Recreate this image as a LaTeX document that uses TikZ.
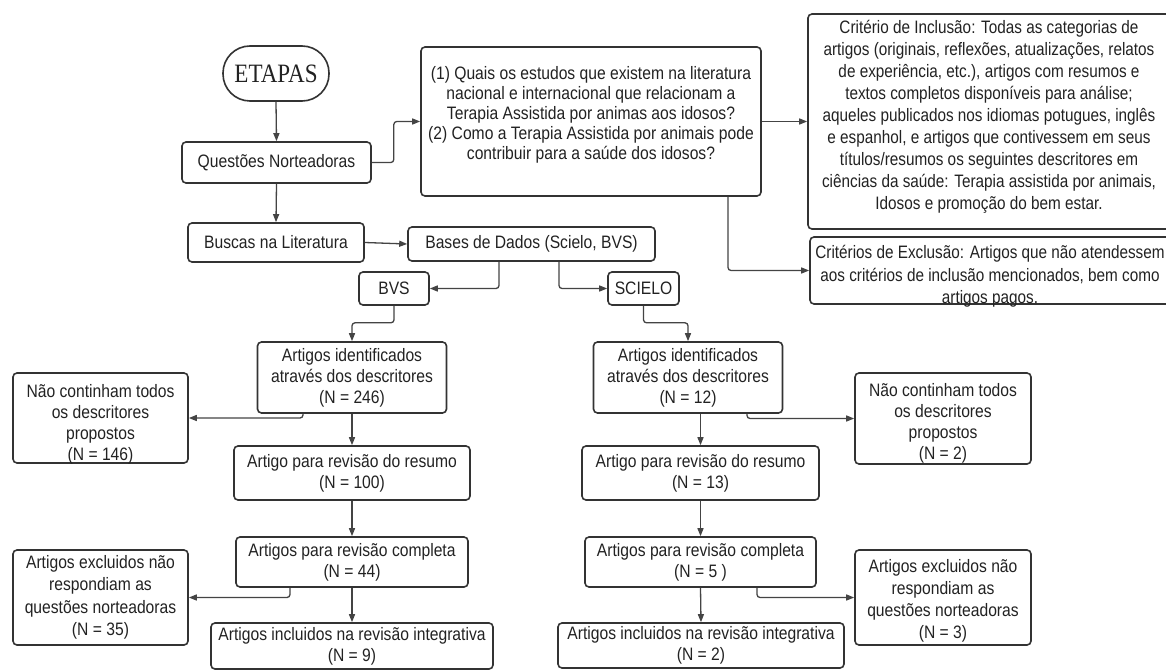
\documentclass[tikz,border=0pt]{standalone}
\usepackage{fontspec}
\usetikzlibrary{arrows.meta}
\newfontfamily\sfx{Liberation Sans}[FakeStretch=0.87]
\newfontfamily\sfn{Liberation Sans}[FakeStretch=0.85]
\newfontfamily\serx{Liberation Serif}[FakeStretch=0.87]
\definecolor{txtc}{HTML}{222222}
\definecolor{bordc}{HTML}{333333}
\definecolor{linec}{HTML}{444444}
\newcommand\txt{\sfx\fontsize{18}{21}\selectfont}
\begin{document}
\begin{tikzpicture}[x=1pt,y=-1pt,
 box/.style={draw=bordc, line width=1.6pt, rounded corners=4pt, inner sep=0pt, align=center, font=\txt, text=txtc},
 con/.style={draw=linec, line width=1.3pt, rounded corners=3pt, -{Triangle[length=8pt,width=6pt]}},
 lab/.style={font=\txt, align=center, text=txtc, inner sep=0pt}]
\useasboundingbox (0,0) rectangle (1166,671);
\fill[white] (0,0) rectangle (1166,671);
\clip (0,0) rectangle (1166,671);

\node[box, rounded corners=27pt, minimum width=106, minimum height=55, font=\serx\fontsize{26.5}{30}\selectfont] (etapas) at (276,73.5) {ETAPAS};
\node[box, minimum width=189, minimum height=41] (qn) at (276.5,162.5) {Questões Norteadoras};
\node[box, minimum width=176, minimum height=39] (bl) at (276,242.5) {Buscas na Literatura};
\node[box, minimum width=340, minimum height=149,
  label={[lab, font=\sfx\fontsize{18}{20}\selectfont, yshift=6.5pt]center:{(1) Quais os estudos que existem na literatura\\nacional e internacional que relacionam a\\Terapia Assistida por animas aos idosos?\\(2) Como a Terapia Assistida por animais pode\\contribuir para a saúde dos idosos?}}] (q) at (591,121.5) {};
\node[box, minimum width=362, minimum height=215,
  label={[lab, font=\sfn\fontsize{18}{22}\selectfont, yshift=5pt]center:{Critério de Inclusão: Todas as categorias de\\artigos (originais, reflexões, atualizações, relatos\\de experiência, etc.), artigos com resumos e\\textos completos disponíveis para análise;\\aqueles publicados nos idiomas potugues, inglês\\e espanhol, e artigos que contivessem em seus\\títulos/resumos os seguintes descritores em\\ciências da saúde: Terapia assistida por animais,\\Idosos e promoção do bem estar.}}] (crit) at (989,121.5) {};
\node[box, minimum width=360, minimum height=67,
  label={[lab, font=\sfn\fontsize{18}{22.5}\selectfont, yshift=-6pt]center:{Critérios de Exclusão: Artigos que não atendessem\\aos critérios de inclusão mencionados, bem como\\artigos pagos.}}] (excl) at (990,270.5) {};
\node[box, minimum width=247, minimum height=34] (bases) at (531.5,244) {Bases de Dados (Scielo, BVS)};
\node[box, minimum width=70, minimum height=33] (bvs) at (394,288.5) {BVS};
\node[box, minimum width=71, minimum height=33] (scielo) at (643.5,288.5) {SCIELO};

% left column
\node[box, minimum width=189, minimum height=71] (idl) at (352,377.5) {Artigos identificados\\através dos descritores\\(N = 246)};
\node[box, minimum width=175, minimum height=90,
  label={[lab, yshift=-6pt]center:{Não continham todos\\os descritores\\propostos\\(N = 146)}}] (nl) at (100.5,418) {};
\node[box, minimum width=236, minimum height=54] (rl) at (352,473) {Artigo para revisão do resumo\\(N = 100)};
\node[box, minimum width=232, minimum height=50] (cl) at (352,562) {Artigos para revisão completa\\(N = 44)};
\node[box, minimum width=175, minimum height=95, font=\sfx\fontsize{18}{22.5}\selectfont] (el) at (100.5,597.5) {Artigos excluidos não\\respondiam as\\questões norteadoras\\(N = 35)};
\node[box, minimum width=282, minimum height=46] (il) at (352,646) {Artigos incluidos na revisão integrativa\\(N = 9)};

% right column
\node[box, minimum width=189, minimum height=71] (idr) at (688,377.5) {Artigos identificados\\através dos descritores\\(N = 12)};
\node[box, minimum width=176, minimum height=91,
  label={[lab, yshift=-5pt]center:{Não continham todos\\os descritores\\propostos\\(N = 2)}}] (nr) at (943,418.5) {};
\node[box, minimum width=237, minimum height=54] (rr) at (700.5,473) {Artigo para revisão do resumo\\(N = 13)};
\node[box, minimum width=231, minimum height=50] (cr) at (700.5,562) {Artigos para revisão completa\\(N = 5 )};
\node[box, minimum width=176, minimum height=95,
  label={[lab, font=\sfx\fontsize{18}{22}\selectfont, yshift=-3pt]center:{Artigos excluidos não\\respondiam as\\questões norteadoras\\(N = 3)}}] (er) at (943,597.5) {};
\node[box, minimum width=286, minimum height=45] (ir) at (701,645.5) {Artigos incluidos na revisão integrativa\\(N = 2)};

% connectors
\draw[con] (etapas.south) -- (qn.north);
\draw[con] (qn.east) -- ++(22,0) |- (q.west);
\draw[con] (qn.south) -- (bl.north);
\draw[con] (q.east) -- (crit.west);
\draw[con] (q.south -| 728,0) |- (excl.west);
\draw[con] (bl.east) -- (bases.west);
\draw[con] (bases.south -| 499,0) |- (bvs.east);
\draw[con] (bases.south -| 559,0) |- (scielo.west);
\draw[con] (bvs.south) -- ++(0,17) -| (idl.north);
\draw[con] (scielo.south) -- ++(0,17) -| (idr.north);
\draw[con] (idl.south -| 303,0) |- (nl.east);
\draw[con] (idl.south) -- (rl.north);
\draw[con] (rl.south) -- (cl.north);
\draw[con] (cl.south -| 290,0) |- (el.east);
\draw[con] (cl.south) -- (il.north);
\draw[con] (idr.south -| 747,0) |- (nr.west);
\draw[con] (rr.north |- idr.south) -- (rr.north);
\draw[con] (rr.south) -- (cr.north);
\draw[con] (cr.south -| 757,0) |- (er.west);
\draw[con] (cr.south) -- (ir.north);
\end{tikzpicture}
\end{document}
